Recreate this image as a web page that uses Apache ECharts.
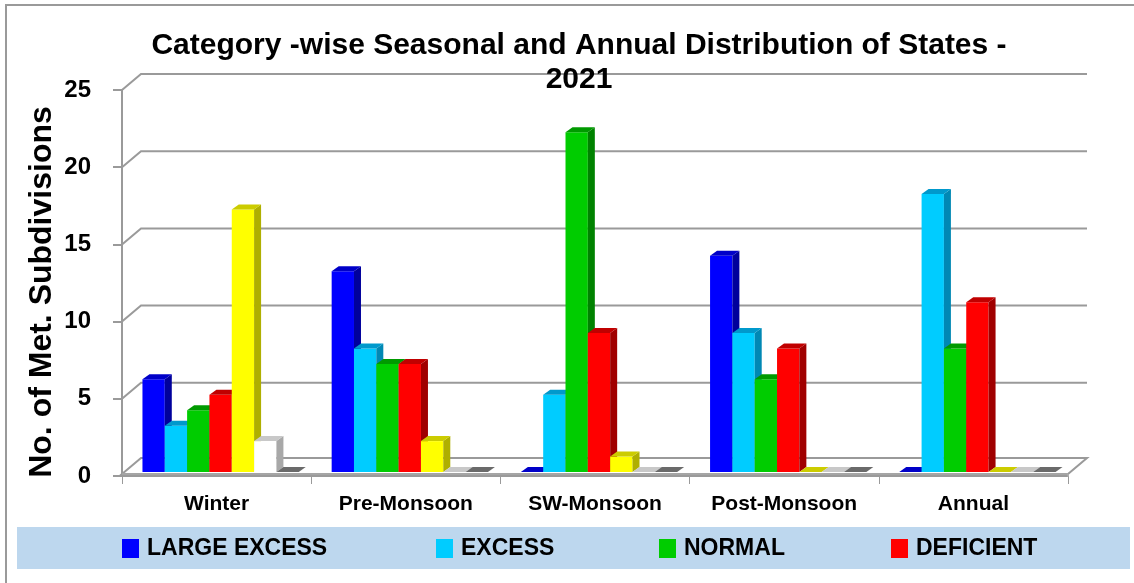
<!DOCTYPE html>
<html>
<head>
<meta charset="utf-8">
<script src="https://cdn.jsdelivr.net/npm/echarts@6/dist/echarts.min.js"></script>
<style>
  html, body { margin: 0; padding: 0; background: #ffffff; }
  #chart { width: 1134px; height: 583px; }
</style>
</head>
<body>
<div id="chart"></div>
<script>
// Seasons on the category axis
const categories = ['Winter', 'Pre-Monsoon', 'SW-Monsoon', 'Post-Monsoon', 'Annual'];

// Number of met. subdivisions in each rainfall category
const largeExcess    = [6, 13, 0, 14, 0];
const excess         = [3, 8, 5, 9, 18];
const normal         = [4, 7, 22, 6, 8];
const deficient      = [5, 7, 9, 8, 11];
const largeDeficient = [17, 2, 1, 0, 0];
const noRain         = [2, 0, 0, 0, 0];
const noData         = [0, 0, 0, 0, 0];

// Value-axis ticks
const yTicks = [0, 5, 10, 15, 20, 25];

const FONT = "'Liberation Sans', Arial, sans-serif";

// depth of the floor / back wall, and of each bar
const DEPTH = [19, -16];
const BAR_SHIFT = [4, -4];
const BAR_DEPTH = [7, -5];
const BAR_FRACTION = 0.118;

const seriesDefs = [
  { name: 'LARGE EXCESS',    data: largeExcess,    front: '#0000FF', top: '#0000C8', side: '#00009C' },
  { name: 'EXCESS',          data: excess,         front: '#00CCFF', top: '#0099CC', side: '#0088B4' },
  { name: 'NORMAL',          data: normal,         front: '#00CC00', top: '#009A00', side: '#008200' },
  { name: 'DEFICIENT',       data: deficient,      front: '#FF0000', top: '#C00000', side: '#A00000' },
  { name: 'LARGE DEFICIENT', data: largeDeficient, front: '#FFFF00', top: '#CCCC00', side: '#AFAF00' },
  { name: 'NO RAIN',         data: noRain,         front: '#FFFFFF', top: '#C8C8C8', side: '#A8A8A8' },
  { name: 'NO DATA',         data: noData,         front: '#6A6A6A', top: '#6A6A6A', side: '#505050' }
];

function barRenderer(k, def) {
  const n = seriesDefs.length;
  return function (params, api) {
    const cat = api.value(0);
    const val = api.value(1);
    const base = api.coord([cat, 0]);
    const top = api.coord([cat, val]);
    const bw = api.size([1, 0])[0] * BAR_FRACTION;
    const cx = base[0] + (k - (n - 1) / 2) * bw + BAR_SHIFT[0];
    const x0 = cx - bw / 2;
    const x1 = cx + bw / 2;
    const yb = base[1] + BAR_SHIFT[1];
    const yt = top[1] + BAR_SHIFT[1];
    const dx = BAR_DEPTH[0], dy = BAR_DEPTH[1];
    const children = [];
    if (val > 0) {
      children.push({
        type: 'rect',
        shape: { x: x0, y: yt, width: bw, height: yb - yt },
        style: { fill: def.front }
      });
      children.push({
        type: 'polygon',
        shape: { points: [[x1, yt], [x1 + dx, yt + dy], [x1 + dx, yb + dy], [x1, yb]] },
        style: { fill: def.side }
      });
    }
    children.push({
      type: 'polygon',
      shape: { points: [[x0, yt], [x1, yt], [x1 + dx, yt + dy], [x0 + dx, yt + dy]] },
      style: { fill: def.top }
    });
    return { type: 'group', children: children };
  };
}

function wallRenderer(params, api) {
  const cs = params.coordSys;
  const v = api.value(1);
  const p = api.coord([0, v]);
  const y = p[1];
  const x = cs.x;
  const children = [];
  if (v === 0) {
    // floor slab
    children.push({
      type: 'polygon',
      shape: { points: [[x, y - 2], [x + cs.width, y - 2], [x + cs.width + DEPTH[0], y - 2 + DEPTH[1]], [x + DEPTH[0], y - 2 + DEPTH[1]]] },
      style: { fill: '#ffffff', stroke: '#9a9a9a', lineWidth: 2 }
    });
    children.push({
      type: 'polyline',
      shape: { points: [[x, y - 2], [x + cs.width, y - 2], [x + cs.width, y + 1]] },
      style: { fill: null, stroke: '#b0b0b0', lineWidth: 1 }
    });
  } else {
    children.push({
      type: 'polyline',
      shape: { points: [[x, y], [x + DEPTH[0], y + DEPTH[1]], [x + cs.width + DEPTH[0], y + DEPTH[1]]] },
      style: { fill: null, stroke: '#9a9a9a', lineWidth: 2 }
    });
  }
  return { type: 'group', children: children };
}

const series = [{
  type: 'custom',
  name: 'walls',
  silent: true,
  z: 1,
  renderItem: wallRenderer,
  data: yTicks.map(v => [0, v])
}];

seriesDefs.forEach((def, k) => {
  series.push({
    type: 'custom',
    name: def.name,
    z: 3,
    itemStyle: { color: def.front },
    encode: { x: 0, y: 1 },
    renderItem: barRenderer(k, def),
    data: def.data.map((v, i) => [i, v])
  });
});

const legendSpots = [
  { name: 'LARGE EXCESS', left: 122 },
  { name: 'EXCESS', left: 436 },
  { name: 'NORMAL', left: 659 },
  { name: 'DEFICIENT', left: 891 }
];

const chart = echarts.init(document.getElementById('chart'), null, { renderer: 'canvas' });

chart.setOption({
  animation: false,
  backgroundColor: '#ffffff',
  title: {
    text: 'Category -wise Seasonal and Annual Distribution of States -\n2021',
    left: 574,
    top: 24,
    textAlign: 'center',
    textStyle: { fontFamily: FONT, fontWeight: 'bold', fontSize: 30, lineHeight: 34, color: '#000000' }
  },
  legend: legendSpots.map(s => ({
    data: [s.name],
    left: s.left,
    top: 537,
    padding: 0,
    icon: 'rect',
    itemWidth: 17,
    itemHeight: 19,
    itemGap: 0,
    selectedMode: false,
    textStyle: { fontFamily: FONT, fontWeight: 'bold', fontSize: 23, color: '#000000', padding: [0, 0, 0, 3] }
  })),
  grid: { left: 122, right: 66, top: 90, bottom: 107, containLabel: false },
  xAxis: {
    type: 'category',
    data: categories,
    boundaryGap: true,
    axisLine: { show: true, lineStyle: { color: '#9a9a9a', width: 2 } },
    axisTick: { show: true, interval: 0, length: 8, lineStyle: { color: '#9a9a9a', width: 1 } },
    axisLabel: { interval: 0, hideOverlap: false, margin: 18, fontFamily: FONT, fontWeight: 'bold', fontSize: 21, color: '#000000' },
    splitLine: { show: false }
  },
  yAxis: {
    type: 'value',
    min: 0,
    max: 25,
    interval: 5,
    axisLine: { show: true, lineStyle: { color: '#9a9a9a', width: 2 } },
    axisTick: { show: true, length: 9, lineStyle: { color: '#9a9a9a', width: 2 } },
    axisLabel: { margin: 31, fontFamily: FONT, fontWeight: 'bold', fontSize: 24, color: '#000000' },
    splitLine: { show: false }
  },
  graphic: [
    {
      type: 'rect',
      z: -10,
      silent: true,
      shape: { x: 6, y: 5, width: 1200, height: 700 },
      style: { fill: 'none', stroke: '#9a9a9a', lineWidth: 2 }
    },
    {
      type: 'rect',
      z: -5,
      silent: true,
      shape: { x: 17, y: 527, width: 1113, height: 42 },
      style: { fill: '#BDD7EE' }
    },
    {
      type: 'text',
      silent: true,
      x: 42,
      y: 292,
      rotation: Math.PI / 2,
      style: {
        text: 'No. of Met. Subdivisions',
        fontFamily: FONT,
        fontWeight: 'bold',
        fontSize: 32,
        fill: '#000000',
        align: 'center',
        verticalAlign: 'middle'
      }
    }
  ],
  series: series
});
</script>
</body>
</html>
